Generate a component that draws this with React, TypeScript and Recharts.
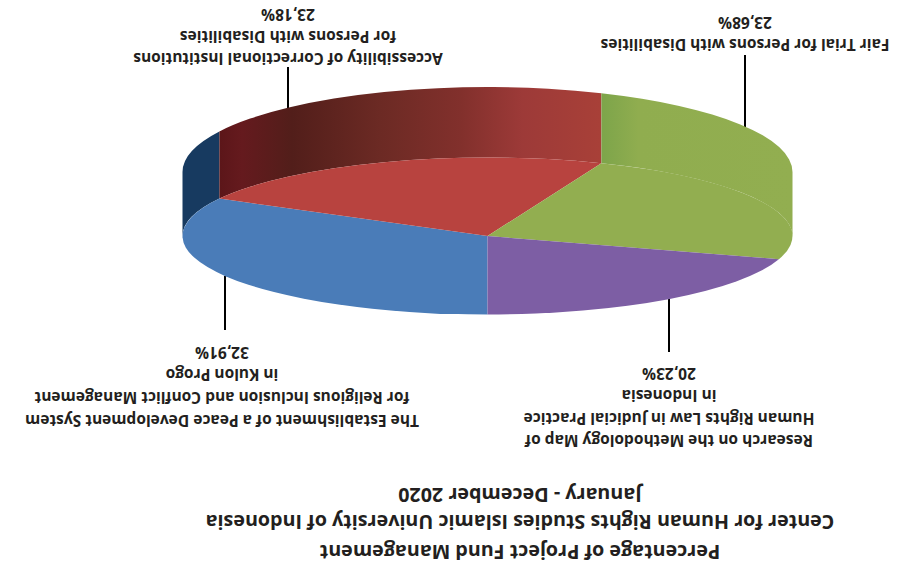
import { PieChart, Pie, Cell } from "recharts";

const categories = [
  "The Establishment of a Peace Development System for Religious Inclusion and Conflict Management in Kulon Progo",
  "Accessibility of Correctional Institutions for Persons with Disabilities",
  "Fair Trial for Persons with Disabilities",
  "Research on the Methodology Map of Human Rights Law in Judicial Practice in Indonesia",
];
const shares = [32.91, 23.18, 23.68, 20.23];
const faceColors = ["#4a7cb8", "#b8433f", "#92ae50", "#7d5ea4"];
const wallColors = ["#173a60", "url(#redWall)", "url(#greenWall)", "#5f497a"];
const titleLines = [
  "Percentage of Project Fund Management",
  "Center for Human Rights Studies Islamic University of Indonesia",
  "January - December 2020",
];
const labelLines = [
  ["The Establishment of a Peace Development System", "for Religious Inclusion and Conflict Management", "in Kulon Progo"],
  ["Accessibility of Correctional Institutions", "for Persons with Disabilities"],
  ["Fair Trial for Persons with Disabilities"],
  ["Research on the Methodology Map of", "Human Rights Law in Judicial Practice", "in Indonesia"],
];

const W = 903;
const H = 567;
const CX = 415.5;
const CY = 331;
const RADIUS = 305;
const FACE_RY = 78.5; // vertical radius of the top of the disc
const RIM_RY = 85; // lower rim reads slightly rounder than the top
const DEPTH = 64; // wall height
const FONT = "'Open Sans', sans-serif";

const titleY = [15, 45, 72];

// anchor of each callout block (centre x, first line y, line spacing) and its leader
const callouts = [
  { x: 681, y: 146, gap: 22.8, lineX: 678, lineY1: 237, lineY2: 291 },
  { x: 615, y: 508, gap: 22, lineX: 615, lineY1: 458, lineY2: 500 },
  { x: 158, y: 522, gap: 22, lineX: 158, lineY1: 436, lineY2: 512 },
  { x: 234, y: 126, gap: 22.4, lineX: 234, lineY1: 215, lineY2: 269 },
];

const point = (cx: number, cy: number, ry: number, angle: number) => {
  const rad = (angle * Math.PI) / 180;
  return [cx + RADIUS * Math.cos(rad), cy - ry * Math.sin(rad)];
};

const arc = (cx: number, cy: number, ry: number, from: number, to: number, sweep: number) => {
  const [x, y] = point(cx, cy, ry, to);
  const large = Math.abs(to - from) > 180 ? 1 : 0;
  return `A${RADIUS} ${ry} 0 ${large} ${sweep} ${x} ${y}`;
};

// top of the disc: an ordinary sector pressed into an ellipse
const FaceSector = (props: any) => {
  const { cx, cy, startAngle, endAngle, fill } = props;
  const [sx, sy] = point(cx, cy, FACE_RY, startAngle);
  return <path d={`M${cx} ${cy}L${sx} ${sy}${arc(cx, cy, FACE_RY, startAngle, endAngle, 1)}Z`} fill={fill} />;
};

// side of the disc: only the stretch of rim on the near half is visible
const WallSector = (props: any) => {
  const { cx, cy, startAngle, endAngle, fill } = props;
  const from = Math.min(startAngle, 0);
  const to = Math.max(endAngle, -180);
  if (from <= to) return null;
  const [sx, sy] = point(cx, cy, FACE_RY, from);
  const [ex, ey] = point(cx, cy + DEPTH, RIM_RY, to);
  const d = `M${sx} ${sy}${arc(cx, cy, FACE_RY, from, to, 1)}L${ex} ${ey}${arc(cx, cy + DEPTH, RIM_RY, to, from, 0)}Z`;
  return <path d={d} fill={fill} />;
};

const percent = (v: number) => `${v.toFixed(2).replace(".", ",")}%`;

export default function App() {
  const chartData = categories.map((name, i) => ({ name, value: shares[i] }));

  return (
    <div style={{ position: "absolute", left: 0, top: 0, width: W, height: H, background: "#fff", transform: "rotate(180deg)" }}>
      <PieChart width={W} height={H} margin={{ top: 0, right: 0, bottom: 0, left: 0 }}>
        <defs>
          <linearGradient id="redWall" gradientUnits="userSpaceOnUse" x1={303} y1={0} x2={688} y2={0}>
            <stop offset="0" stopColor="#a84038" />
            <stop offset="0.2" stopColor="#9d3a38" />
            <stop offset="0.36" stopColor="#82302c" />
            <stop offset="0.57" stopColor="#6c2a24" />
            <stop offset="0.8" stopColor="#521e1a" />
            <stop offset="0.93" stopColor="#651a1e" />
            <stop offset="1" stopColor="#5a1518" />
          </linearGradient>
          <linearGradient id="greenWall" gradientUnits="userSpaceOnUse" x1={110} y1={0} x2={303} y2={0}>
            <stop offset="0" stopColor="#92ae50" />
            <stop offset="0.8" stopColor="#90ad4f" />
            <stop offset="1" stopColor="#7ca44a" />
          </linearGradient>
        </defs>
        <Pie
          data={chartData}
          dataKey="value"
          nameKey="name"
          cx={CX}
          cy={CY}
          outerRadius={RADIUS}
          startAngle={90}
          endAngle={-270}
          stroke="none"
          isAnimationActive={false}
          shape={WallSector}
        >
          {chartData.map((d, i) => (
            <Cell key={d.name} fill={wallColors[i]} />
          ))}
        </Pie>
        <Pie
          data={chartData}
          dataKey="value"
          nameKey="name"
          cx={CX}
          cy={CY}
          outerRadius={RADIUS}
          startAngle={90}
          endAngle={-270}
          stroke="none"
          isAnimationActive={false}
          shape={FaceSector}
        >
          {chartData.map((d, i) => (
            <Cell key={d.name} fill={faceColors[i]} />
          ))}
        </Pie>

        {titleLines.map((t, i) => (
          <text key={t} x={383} y={titleY[i]} textAnchor="middle" dominantBaseline="central" fontFamily={FONT} fontWeight={700} fontSize={19.7} fill="#231f20">
            {t}
          </text>
        ))}

        {callouts.map((c, i) => (
          <g key={i}>
            <line x1={c.lineX} x2={c.lineX} y1={c.lineY1} y2={c.lineY2} stroke="#000" strokeWidth={2} />
            {[...labelLines[i], percent(shares[i])].map((t, j) => (
              <text key={t} x={c.x} y={c.y + j * c.gap} textAnchor="middle" dominantBaseline="central" fontFamily={FONT} fontWeight={700} fontSize={15.5} fill="#231f20">
                {t}
              </text>
            ))}
          </g>
        ))}
      </PieChart>
    </div>
  );
}
